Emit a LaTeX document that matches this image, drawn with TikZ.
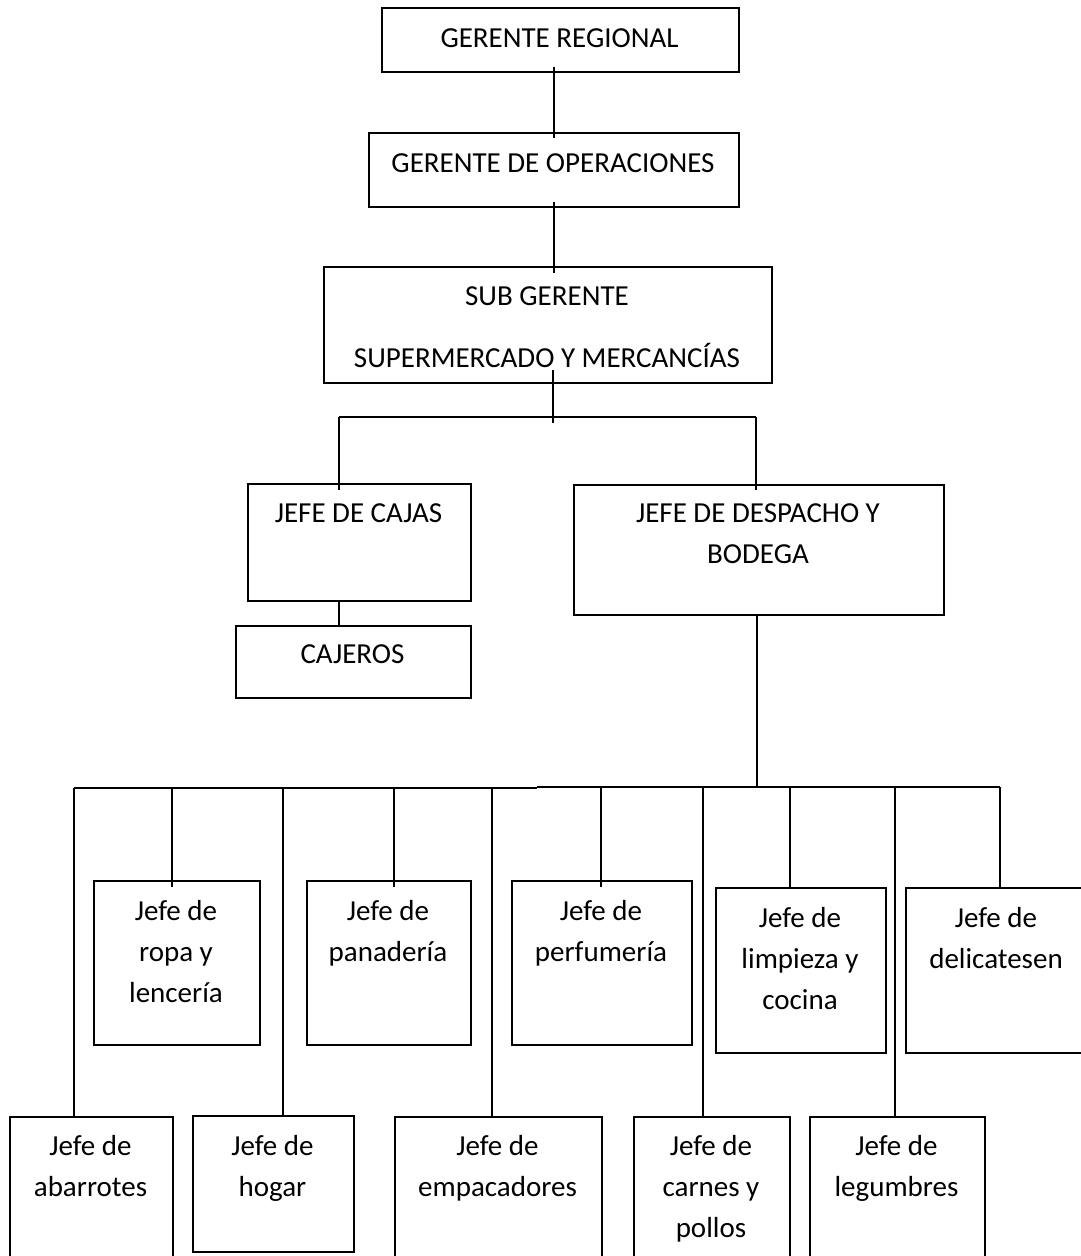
\documentclass[tikz,border=0pt]{standalone}
\usepackage{fontspec}
\setmainfont{Carlito}
\usetikzlibrary{calc}

% box given by its left, top, right and bottom edges (in px-like units)
\newcommand\orgcaja[5]{%
  \node[caja, minimum width={#4-#2}, minimum height={#5-#3}] (#1) at (#2,#3) {};}
% centred text block given by its centre x and the baseline of its first line
\newcommand\orgtexto[4]{%
  \node[txt] (#1) at (#2,#3-28.7) {\strut #4};}

\tikzset{
  caja/.style={draw, line width=1.8pt, inner sep=0pt, anchor=north west},
  txt/.style={inner sep=0pt, align=center, anchor=north,
              font=\fontsize{29}{41}\selectfont},
  enlace/.style={line width=1.8pt},
}

\begin{document}
\begin{tikzpicture}[x=1pt, y=-1pt]
\useasboundingbox (0,0) rectangle (1081,1256);
\fill[white] (0,0) rectangle (1081,1256);
\clip (0,0) rectangle (1081,1256);

% --- upper levels
\orgcaja{gr}{381}{7}{738}{71}
\orgcaja{go}{368}{132}{738}{206}
\orgcaja{sg}{323}{266}{771}{382}
\orgcaja{jc}{247}{483}{470}{600}
\orgcaja{caj}{235}{625}{470}{697}
\orgcaja{jd}{573}{484}{943}{614}

% --- upper row of section heads
\orgcaja{ropa}{93}{880}{259}{1044}
\orgcaja{pan}{306}{880}{470}{1044}
\orgcaja{perf}{511}{880}{691}{1044}
\orgcaja{limp}{715}{887}{885}{1052}
\orgcaja{deli}{905}{887}{1160}{1052}

% --- lower row of section heads
\orgcaja{abar}{9}{1116}{172}{1300}
\orgcaja{hogar}{192}{1115}{353}{1251}
\orgcaja{emp}{394}{1116}{601}{1300}
\orgcaja{carn}{633}{1116}{789}{1300}
\orgcaja{leg}{809}{1116}{984}{1300}

% --- labels
\orgtexto{t-gr}{559.5}{47}{GERENTE REGIONAL}
\orgtexto{t-go}{553}{172}{GERENTE DE OPERACIONES}
\orgtexto{t-sg}{547}{305}{SUB GERENTE\\[21pt]\strut SUPERMERCADO Y MERCANCÍAS}
\orgtexto{t-jc}{358.5}{522}{JEFE DE CAJAS}
\orgtexto{t-caj}{352.5}{663}{CAJEROS}
\orgtexto{t-jd}{758}{522}{JEFE DE DESPACHO Y\\\strut BODEGA}

\orgtexto{t-ropa}{176}{920}{Jefe de\\\strut ropa y\\\strut lencería}
\orgtexto{t-pan}{388}{920}{Jefe de\\\strut panadería}
\orgtexto{t-perf}{601}{920}{Jefe de\\\strut perfumería}
\orgtexto{t-limp}{800}{927}{Jefe de\\\strut limpieza y\\\strut cocina}
\orgtexto{t-deli}{996}{927}{Jefe de\\\strut delicatesen}

\orgtexto{t-abar}{90.5}{1155}{Jefe de\\\strut abarrotes}
\orgtexto{t-hogar}{272.5}{1155}{Jefe de\\\strut hogar}
\orgtexto{t-emp}{497.5}{1155}{Jefe de\\\strut empacadores}
\orgtexto{t-carn}{711}{1155}{Jefe de\\\strut carnes y\\\strut pollos}
\orgtexto{t-leg}{896.5}{1155}{Jefe de\\\strut legumbres}

% --- connectors of the upper levels
\draw[enlace, shorten <=-6pt, shorten >=-6pt] (go.north |- gr.south) -- (go.north);
\draw[enlace, shorten <=-6pt, shorten >=-7pt] (go.south) -- (go.south |- sg.north);

\coordinate (sgbar) at (553,417);
\coordinate (barL) at (339,417);
\coordinate (barR) at (756,417);
\draw[enlace, shorten <=-14pt] (sgbar |- sg.south) -- ($(sgbar)+(0,6)$);
\draw[enlace] (barL) -- (barR);
\draw[enlace, shorten >=-7pt] (barL) -- (barL |- jc.north);
\draw[enlace, shorten >=-6pt] (barR) -- (barR |- jd.north);
\draw[enlace] (barL |- jc.south) -- (barL |- caj.north);

% --- bus to the section heads
\coordinate (bus) at (757,787);
\draw[enlace] (bus |- jd.south) -- (bus);
\coordinate (b1) at (74,788);
\coordinate (b2) at (172,788);
\coordinate (b3) at (283,788);
\coordinate (b4) at (394,788);
\coordinate (b5) at (492,788);
\coordinate (bmid) at (537,788);
\coordinate (b6) at (601,787);
\coordinate (b7) at (703,787);
\coordinate (b8) at (790,787);
\coordinate (b9) at (895,787);
\coordinate (b10) at (1000,787);
\draw[enlace] (b1) -- (bmid);
\draw[enlace] (bmid |- b10) -- (b10);

\draw[enlace, shorten >=-7pt] (b2) -- (b2 |- ropa.north);
\draw[enlace, shorten >=-7pt] (b4) -- (b4 |- pan.north);
\draw[enlace, shorten >=-7pt] (b6) -- (b6 |- perf.north);
\draw[enlace] (b8) -- (b8 |- limp.north);
\draw[enlace] (b10) -- (b10 |- deli.north);

\draw[enlace] (b1) -- (b1 |- abar.north);
\draw[enlace] (b3) -- (b3 |- hogar.north);
\draw[enlace] (b5) -- (b5 |- emp.north);
\draw[enlace] (b7) -- (b7 |- carn.north);
\draw[enlace] (b9) -- (b9 |- leg.north);
\end{tikzpicture}
\end{document}
